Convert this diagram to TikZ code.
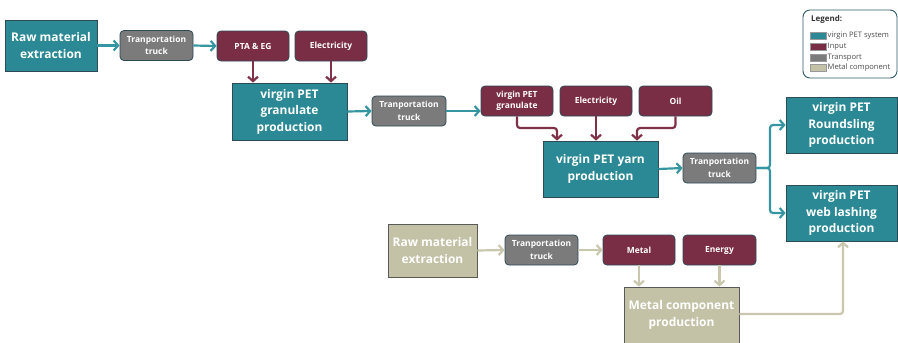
\documentclass[tikz,border=0pt]{standalone}
\usepackage{fontspec}
\setmainfont{Open Sans}
\usetikzlibrary{arrows.meta}
\definecolor{teal1}{HTML}{2A8994}
\definecolor{tealline}{HTML}{3596A1}
\definecolor{tealdark}{HTML}{2E4A55}
\definecolor{wine}{HTML}{7A2E45}
\definecolor{wineline}{HTML}{7F3148}
\definecolor{graybox}{HTML}{7B7B7B}
\definecolor{beige}{HTML}{C4C2A6}
\definecolor{beigeline}{HTML}{C9C7AD}
\definecolor{legendline}{HTML}{2F5868}
\tikzset{
  proc/.style={draw=tealdark, line width=0.8pt, fill=teal1, text=white, font=\fontsize{12}{16.5}\selectfont\bfseries, align=center, inner sep=0pt},
  truckbox/.style={draw=tealdark, line width=0.8pt, fill=graybox, rounded corners=4pt, text=white, font=\fontsize{8.5}{12.5}\selectfont\bfseries, align=center, inner sep=0pt, minimum width=73bp, minimum height=30bp},
  inbox/.style={draw=tealdark, line width=0.8pt, fill=wine, rounded corners=4pt, text=white, font=\fontsize{8.5}{11.5}\selectfont\bfseries, align=center, inner sep=0pt, minimum width=72bp, minimum height=30bp},
  metbox/.style={draw=black!65, line width=0.8pt, fill=beige, text=white, font=\fontsize{12}{16.5}\selectfont\bfseries, align=center, inner sep=0pt},
  tarr/.style={draw=tealline, line width=2.2pt, rounded corners=3pt, -{Straight Barb[length=4.5pt,width=10pt]}},
  rarr/.style={draw=wineline, line width=2.2pt, rounded corners=3pt, -{Straight Barb[length=4.5pt,width=10pt]}},
  barr/.style={draw=beigeline, line width=2.2pt, rounded corners=3pt, -{Straight Barb[length=4.5pt,width=10pt]}},
  swatch/.style={draw=black!40, line width=0.3pt, minimum width=16bp, minimum height=7bp, inner sep=0pt},
  legtext/.style={font=\fontsize{7.6}{9}\selectfont, text=black!70, anchor=west, inner sep=0pt}
}
\begin{document}
\begin{tikzpicture}[x=1bp,y=-1bp]
\useasboundingbox[fill=white] (0,0) rectangle (898,342);
\begin{scope}
\clip (0,0) rectangle (898,342);
% top row
\node[proc, minimum width=92bp, minimum height=51bp] (raw1) at (51,45.5) {Raw material\\extraction};
\node[truckbox] (t1) at (156.5,45.5) {Tranportation\\truck};
\node[inbox] (pta) at (253,46) {PTA \& EG};
\node[inbox] (el1) at (331,46) {Electricity};
\node[proc, minimum width=115bp, minimum height=57bp] (gran) at (289.5,111.5) {virgin PET\\granulate\\production};
\node[truckbox, minimum width=74bp] (t2) at (409,111) {Tranportation\\truck};
\node[inbox] (gin) at (517,101) {virgin PET\\granulate};
\node[inbox] (el2) at (596,101) {Electricity};
\node[inbox, minimum width=73bp] (oil) at (675.5,101) {Oil};
\node[proc, minimum width=115bp, minimum height=56bp] (yarn) at (600.5,169) {virgin PET yarn\\production};
\node[truckbox] (t3) at (719.5,168) {Tranportation\\truck};
\node[proc, minimum width=111bp, minimum height=56bp] (round) at (841.5,125) {virgin PET\\Roundsling\\production};
\node[proc, minimum width=111bp, minimum height=56bp] (web) at (841.5,213) {virgin PET\\web lashing\\production};
% metal row
\node[metbox, minimum width=89bp, minimum height=53bp] (raw2) at (432.5,250.5) {Raw material\\extraction};
\node[truckbox] (t4) at (541.5,250) {Tranportation\\truck};
\node[inbox] (metal) at (639,250) {Metal};
\node[inbox, minimum width=73bp] (energy) at (719.5,250) {Energy};
\node[metbox, minimum width=115bp, minimum height=56bp] (mcp) at (681.5,315) {Metal component\\production};
% legend
\node[draw=legendline, line width=0.9pt, rounded corners=7pt, minimum width=94bp, minimum height=68bp, inner sep=0pt] (leg) at (850,44) {};
\node[anchor=west, font=\fontsize{8}{9}\selectfont\bfseries, text=black!80, inner sep=0pt] (legt) at (811,19) {Legend:};
\node[swatch, fill=teal1, anchor=west] (s1) at (810,36) {};
\node[swatch, fill=wine, anchor=west] (s2) at (810,47) {};
\node[swatch, fill=graybox, anchor=west] (s3) at (810,57.5) {};
\node[swatch, fill=beige, anchor=west] (s4) at (810,68) {};
\node[legtext] (l1) at (827.5,36) {virgin PET system};
\node[legtext] (l2) at (827.5,47) {Input};
\node[legtext] (l3) at (827.5,57.5) {Transport};
\node[legtext] (l4) at (827.5,68) {Metal component};
% connectors
\draw[tarr] (raw1.east) -- (t1.west);
\draw[tarr] (t1.east) -- (pta.west);
\draw[rarr] (pta.south) -- (pta.south |- gran.north);
\draw[rarr] (el1.south) -- (el1.south |- gran.north);
\draw[tarr] (gran.east) -- (t2.west);
\draw[tarr] (t2.east) -- (t2.east -| gin.west);
\coordinate (gy) at (557,128);
\coordinate (oy) at (637,128);
\draw[rarr] (gin.south) |- (gy) -- (gy |- yarn.north);
\draw[rarr] (el2.south) -- (el2.south |- yarn.north);
\draw[rarr] (oil.south) |- (oy) -- (oy |- yarn.north);
\draw[tarr] (yarn.east) -- (t3.west);
\coordinate (br) at (770,168);
\draw[tarr] (t3.east) -- (br) |- (round.west);
\draw[tarr] (t3.east) -- (br) |- (web.west);
\draw[barr] (raw2.east) -- (t4.west);
\draw[barr] (t4.east) -- (metal.west);
\draw[barr] (metal.south) -- (metal.south |- mcp.north);
\draw[barr] (energy.south) -- (energy.south |- mcp.north);
\coordinate (mc) at (843,314);
\draw[barr] (mcp.east |- mc) -- (mc) -- (mc |- web.south);
\end{scope}
\end{tikzpicture}
\end{document}
